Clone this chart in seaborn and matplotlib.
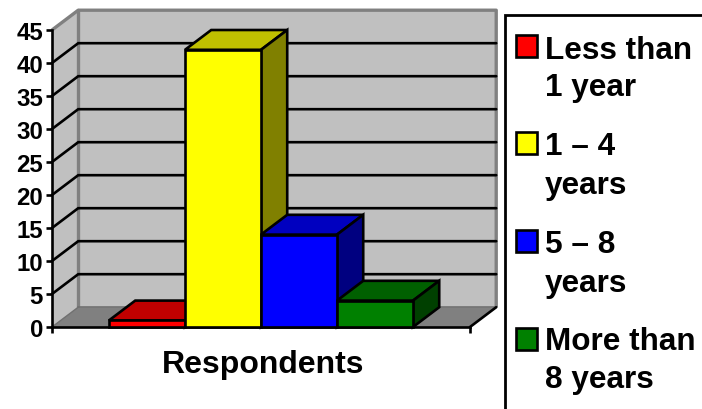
import matplotlib
matplotlib.use("Agg")
import matplotlib.pyplot as plt
import seaborn as sns
from matplotlib.patches import Rectangle

categories = ["Less than 1 year", "1 – 4 years", "5 – 8 years", "More than 8 years"]
respondents = [1, 42, 14, 4]
front_colors = ["#FF0000", "#FFFF00", "#0000FF", "#008000"]
top_colors = ["#C00000", "#C0C000", "#0000C0", "#006000"]
side_colors = ["#800000", "#808000", "#000080", "#004000"]
y_ticks = [0, 5, 10, 15, 20, 25, 30, 35, 40, 45]
legend_lines = [["Less than", "1 year"], ["1 – 4", "years"], ["5 – 8", "years"], ["More than", "8 years"]]
axis_label = "Respondents"

W, H = 702, 410
sns.set_theme(style="white")
plt.rcParams["font.family"] = ["Liberation Sans", "DejaVu Sans"]
plt.rcParams["font.weight"] = "bold"

fig = plt.figure(figsize=(W / 100, H / 100), dpi=100, facecolor="white")
ax = fig.add_axes([52 / W, 1 - 328 / H, 418 / W, 297 / H])
ax.patch.set_visible(False)

line_w = 1.9
sns.barplot(x=categories, y=respondents, hue=categories, palette=front_colors,
            width=1, dodge=False, legend=False, edgecolor="black", linewidth=line_w,
            saturation=1, ax=ax)

x_lo, x_hi = -1.25, 4.25
y_hi = y_ticks[-1]
ax.set_xlim(x_lo, x_hi)
ax.set_ylim(0, y_hi)

# Oblique depth of the pseudo-3D box, in data units
dx, dy = 0.345, 3.0
back_l, back_r = x_lo + dx, x_hi + dx
grey = "#808080"
wall = "#C0C0C0"

# Back wall, side wall and floor
ax.fill([back_l, back_r, back_r, back_l], [dy, dy, y_hi + dy, y_hi + dy],
        facecolor=wall, edgecolor="none", clip_on=False, zorder=0.5)
ax.fill([x_lo, back_l, back_l, x_lo], [0, dy, y_hi + dy, y_hi],
        facecolor=wall, edgecolor="none", clip_on=False, zorder=0.5)
ax.fill([x_lo, back_l, back_r, x_hi], [0, dy, dy, 0],
        facecolor=grey, edgecolor="none", clip_on=False, zorder=0.6)

# Wall outlines
ax.plot([x_lo, back_l, back_r, back_r], [y_hi, y_hi + dy, y_hi + dy, dy],
        color=grey, lw=2.4, clip_on=False, zorder=0.7, solid_capstyle="butt")
ax.plot([back_l, back_l], [dy, y_hi + dy], color=grey, lw=2.4, clip_on=False, zorder=0.7)
ax.plot([back_l, back_r], [dy, dy], color="#707070", lw=1.2, clip_on=False, zorder=0.7)
ax.plot([x_lo, back_l], [0, dy], color="#707070", lw=1, clip_on=False, zorder=0.7)
ax.plot([x_hi, back_r], [0, dy], color="black", lw=line_w, clip_on=False, zorder=0.8)

# Gridlines wrapping the side wall and back wall
for v in y_ticks[1:-1]:
    ax.plot([x_lo, back_l, back_r], [v, v + dy, v + dy], color="black", lw=line_w,
            clip_on=False, zorder=0.9, solid_joinstyle="miter")

# Top and side faces of each column, painted left to right
for i, (bar, top, side) in enumerate(zip(ax.patches, top_colors, side_colors)):
    x0 = bar.get_x()
    x1 = x0 + bar.get_width()
    h = bar.get_height()
    z = 3 + i
    bar.set_zorder(z + 0.2)
    bar.set_clip_on(False)
    ax.fill([x0, x0 + dx, x1 + dx, x1], [h, h + dy, h + dy, h], facecolor=top,
            edgecolor="black", lw=line_w, clip_on=False, zorder=z)
    ax.fill([x1, x1 + dx, x1 + dx, x1], [0, dy, h + dy, h], facecolor=side,
            edgecolor="black", lw=line_w, clip_on=False, zorder=z)

# Axes
sns.despine(ax=ax)
for name in ("left", "bottom"):
    ax.spines[name].set_color("black")
    ax.spines[name].set_linewidth(line_w)
ax.set_yticks(y_ticks)
ax.set_xticks([x_lo, x_hi], ["", ""])
ax.tick_params(axis="both", which="major", left=True, bottom=True, length=4.0,
               width=line_w, color="black")
ax.tick_params(axis="y", labelsize=17.3, pad=2.5, labelcolor="black")
ax.set_xlabel(axis_label, fontsize=23, fontweight="bold", color="black", labelpad=8.5, x=0.504)
ax.set_ylabel("")
for label in ax.get_yticklabels():
    label.set_fontweight("bold")

# Legend panel, running off the right and bottom of the figure
fig.add_artist(Rectangle((505 / W, -0.1), (W - 505 + 20) / W, 1.1 - 16 / H,
                         transform=fig.transFigure, facecolor="white",
                         edgecolor="black", lw=2.0, zorder=5))
swatch_tops = [36, 133, 231, 329]
baselines = [(59, 96), (155, 194), (253, 292), (350, 388)]
for color, lines, sw_top, bases in zip(front_colors, legend_lines, swatch_tops, baselines):
    fig.add_artist(Rectangle((515.5 / W, 1 - (sw_top + 22) / H), 21.5 / W, 22 / H,
                             transform=fig.transFigure, facecolor=color,
                             edgecolor="black", lw=line_w, zorder=6))
    for line, base in zip(lines, bases):
        fig.text(545 / W, 1 - base / H, line, fontsize=22.7, fontweight="bold",
                 color="black", va="baseline", ha="left", zorder=7)

fig.savefig("out.png", dpi=100, facecolor="white")
